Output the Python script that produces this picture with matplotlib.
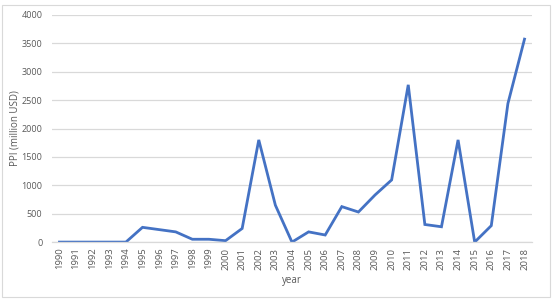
import matplotlib
matplotlib.use("Agg")
import matplotlib.pyplot as plt
from matplotlib.patches import Rectangle

# data
years = [str(y) for y in range(1990, 2019)]
ppi = [0, 0, 0, 0, 0, 260, 220, 180, 50, 50, 25, 240, 1800, 650, 0,
       180, 125, 625, 530, 830, 1095, 2770, 310, 270, 1800, 0, 290, 2440, 3575]

text_col = '#595959'
plt.rcParams['font.family'] = ['Open Sans', 'DejaVu Sans']

fig = plt.figure(figsize=(5.53, 3.0), dpi=100)
ax = fig.add_axes([0.094, 0.193, 0.868, 0.757])

x = list(range(len(years)))
ax.plot(x, ppi, color='#4472C4', linewidth=2.0, solid_joinstyle='miter')

ax.set_xlim(-0.45, len(years) - 0.55)
ax.set_ylim(0, 4000)
ax.set_yticks(range(0, 4001, 500))
ax.set_xticks(x)
ax.set_xticklabels(years, rotation=90, fontsize=6.8, color=text_col)
ax.tick_params(axis='y', labelsize=6.5, colors=text_col, length=0, pad=7)
ax.tick_params(axis='x', length=0, pad=4, colors=text_col)

ax.grid(axis='y', color='#D9D9D9', linewidth=0.9)
ax.set_axisbelow(True)
for s in ['top', 'right', 'left']:
    ax.spines[s].set_visible(False)
ax.spines['bottom'].set_color('#D9D9D9')
ax.spines['bottom'].set_linewidth(0.9)

ax.set_ylabel('PPI (million USD)', fontsize=7, color=text_col)
ax.yaxis.set_label_coords(-0.066, 0.5)
ax.set_xlabel('year', fontsize=7, color=text_col, labelpad=4)

# light chart frame
fig.patches.append(Rectangle((0.004, 0.01), 0.99, 0.975, transform=fig.transFigure,
                             fill=False, edgecolor='#D9D9D9', linewidth=0.8))

fig.savefig('out.png', dpi=100)
